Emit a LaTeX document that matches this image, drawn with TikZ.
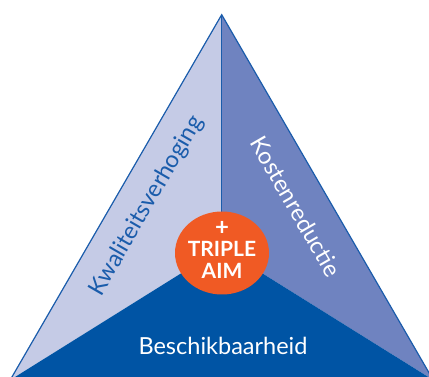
\documentclass[tikz,border=0pt]{standalone}
\usepackage{fontspec}
\setmainfont{Lato}
\usetikzlibrary{shapes.geometric}
\definecolor{lightlav}{HTML}{C5CBE6}
\definecolor{midblue}{HTML}{6F83C0}
\definecolor{darkblue}{HTML}{0054A4}
\definecolor{edgeblue}{HTML}{1A5CAB}
\definecolor{aimorange}{HTML}{F05A24}
\begin{document}
\begin{tikzpicture}[x=1pt,y=-1pt,
  lbl/.style={font=\fontsize{23.5}{27}\selectfont, inner sep=0pt},
  aimstyle/.style={font=\fontsize{21}{21.5}\selectfont\bfseries, text=white, align=center, inner sep=0pt}]
\useasboundingbox (0,0) rectangle (429,377);
\clip (0,0) rectangle (429,377);
\coordinate (A) at (221.7,14.7);
\coordinate (L) at (10.2,380);
\coordinate (R) at (433.2,380);
\coordinate (C) at (221.7,248);
\fill[lightlav] (A) -- (C) -- (L) -- cycle;
\fill[midblue] (A) -- (R) -- (C) -- cycle;
\fill[darkblue] (L) -- (C) -- (R) -- cycle;
\draw[edgeblue, line width=0.9pt] (A) -- (C);
\draw[edgeblue, line width=1.2pt] (L) -- (A) -- (R);
\node[ellipse, fill=aimorange, minimum width=94pt, minimum height=83pt, inner sep=0pt] (aim) at (222,253) {};
\node[aimstyle] (aimtext) at (222,249.5) {\fontsize{24}{21.5}\selectfont+\\TRIPLE\\AIM};
\node[lbl, text=edgeblue, rotate=60] (kwal) at (146.7,206) {Kwaliteitsverhoging};
\node[lbl, text=white, rotate=-60] (kost) at (296,206.5) {Kostenreductie};
\node[lbl, text=white] (besch) at (223,345.5) {Beschikbaarheid};
\end{tikzpicture}
\end{document}
